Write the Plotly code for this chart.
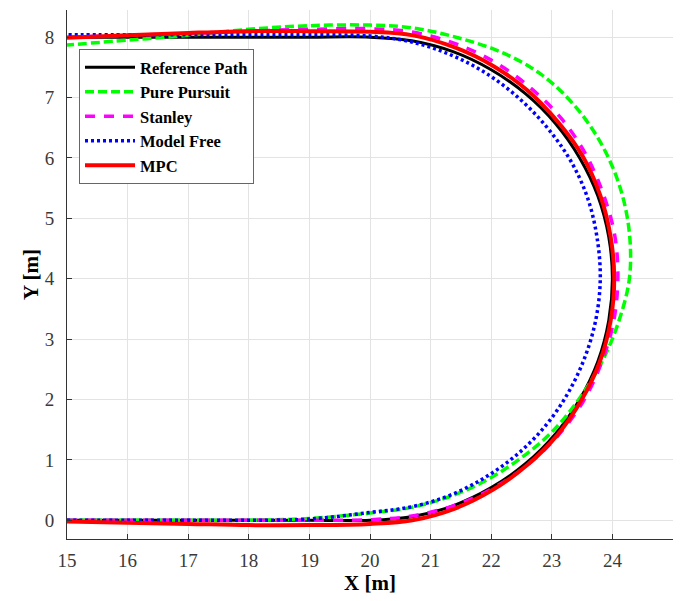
import plotly.graph_objects as go

# Reference path
ref_x = [15, 16, 17, 18, 19, 20, 20.69, 21.37, 22, 22.57, 23.06, 23.46, 23.76, 23.94, 24, 23.94, 23.76, 23.46, 23.06, 22.57, 22, 21.37, 20.69, 20, 19, 18, 17, 16, 15]
ref_y = [0, 0, 0, 0, 0, 0, 0.06, 0.24, 0.54, 0.94, 1.43, 2.0, 2.63, 3.31, 4.0, 4.69, 5.37, 6.0, 6.57, 7.06, 7.46, 7.76, 7.94, 8, 8, 8, 8, 8, 8]

# Pure Pursuit
pp_x = [15, 16, 17, 18, 19, 20, 20.67, 21.31, 21.93, 22.49, 23.01, 23.45, 23.82, 24.10, 24.28, 24.28, 24.13, 23.83, 23.39, 22.83, 22.17, 21.45, 20.73, 20, 19, 18, 17, 16, 15]
pp_y = [0, 0, 0, 0, 0.03, 0.12, 0.21, 0.39, 0.67, 1.03, 1.47, 2.01, 2.61, 3.28, 4.0, 4.76, 5.50, 6.21, 6.85, 7.38, 7.75, 7.99, 8.15, 8.2, 8.19, 8.13, 8.03, 7.95, 7.87]

# Stanley
st_x = [15, 16, 17, 18, 19, 20, 20.69, 21.37, 22.01, 22.59, 23.10, 23.52, 23.82, 24.02, 24.09, 24.04, 23.85, 23.56, 23.16, 22.65, 22.07, 21.42, 20.72, 20, 19, 18, 17, 16, 15]
st_y = [0, 0, 0, 0, 0, 0.01, 0.07, 0.24, 0.52, 0.91, 1.40, 1.97, 2.61, 3.29, 4.0, 4.71, 5.40, 6.06, 6.65, 7.16, 7.58, 7.89, 8.08, 8.14, 8.13, 8.1, 8.06, 8.03, 8.0]

# Model Free
mf_x = [15, 16, 17, 18, 19, 20, 20.67, 21.31, 21.9, 22.44, 22.90, 23.27, 23.55, 23.73, 23.8, 23.75, 23.60, 23.33, 22.95, 22.49, 21.95, 21.35, 20.69, 20, 19, 18, 17, 16, 15]
mf_y = [0, 0, 0, 0, 0.02, 0.13, 0.22, 0.41, 0.71, 1.10, 1.57, 2.11, 2.71, 3.34, 4.0, 4.66, 5.31, 5.92, 6.47, 6.96, 7.38, 7.70, 7.92, 8.02, 8.04, 8.04, 8.04, 8.04, 8.04]

# MPC
mpc_x = [15, 16, 17, 18, 19, 20, 20.70, 21.39, 22.02, 22.59, 23.09, 23.49, 23.79, 23.97, 24.03, 23.97, 23.80, 23.51, 23.10, 22.61, 22.04, 21.40, 20.71, 20, 19, 18, 17, 16, 15]
mpc_y = [-0.02, -0.04, -0.06, -0.08, -0.08, -0.06, 0.0, 0.19, 0.5, 0.91, 1.41, 1.99, 2.62, 3.30, 4.0, 4.70, 5.38, 6.03, 6.60, 7.11, 7.52, 7.83, 8.03, 8.09, 8.1, 8.1, 8.07, 8.03, 7.99]

x_ticks = [15, 16, 17, 18, 19, 20, 21, 22, 23, 24, 25]
y_ticks = [0, 1, 2, 3, 4, 5, 6, 7, 8]

SM = 1.0
fig = go.Figure()
fig.add_trace(go.Scatter(x=ref_x, y=ref_y, mode="lines", name="Reference Path",
                         line=dict(color="black", width=3, shape="spline", smoothing=SM)))
fig.add_trace(go.Scatter(x=pp_x, y=pp_y, mode="lines", name="Pure Pursuit",
                         line=dict(color="#00ff00", width=3.5, dash="9px,4px", shape="spline", smoothing=SM)))
fig.add_trace(go.Scatter(x=st_x, y=st_y, mode="lines", name="Stanley",
                         line=dict(color="#ff00ff", width=3.5, dash="10px,9px", shape="spline", smoothing=SM)))
fig.add_trace(go.Scatter(x=mf_x, y=mf_y, mode="lines", name="Model Free",
                         line=dict(color="#0000ff", width=3.5, dash="3px,3px", shape="spline", smoothing=SM)))
fig.add_trace(go.Scatter(x=mpc_x, y=mpc_y, mode="lines", name="MPC",
                         line=dict(color="#ff0000", width=4, shape="spline", smoothing=SM)))

serif = "Liberation Serif"
axis_common = dict(
    showgrid=True, gridcolor="#e3e3e3", gridwidth=1,
    showline=True, linecolor="#333333", linewidth=1,
    ticks="inside", ticklen=5, tickcolor="#333333",
    tickfont=dict(family=serif, size=19, color="#3a3a3a"),
    zeroline=False, mirror=False,
)

fig.update_layout(
    width=681, height=601,
    margin=dict(l=67, r=8, t=10, b=62),
    paper_bgcolor="white", plot_bgcolor="white",
    showlegend=True,
    legend=dict(
        x=0.0198, y=0.926, xanchor="left", yanchor="top",
        bgcolor="white", bordercolor="#666666", borderwidth=1,
        font=dict(family=serif, size=16.5, color="black", weight="bold"),
        itemwidth=50, tracegroupgap=0,
    ),
    xaxis=dict(range=[15, 25], tickvals=x_ticks, ticklabelstandoff=4,
               title=dict(text="<b>X [m]</b>", font=dict(family=serif, size=21, color="black"), standoff=0),
               **axis_common),
    yaxis=dict(range=[-0.31, 8.45], tickvals=y_ticks, ticklabelstandoff=8,
               title=dict(text="<b>Y [m]</b>", font=dict(family=serif, size=21, color="black"), standoff=0),
               **axis_common),
)

fig.write_html("out.html")
